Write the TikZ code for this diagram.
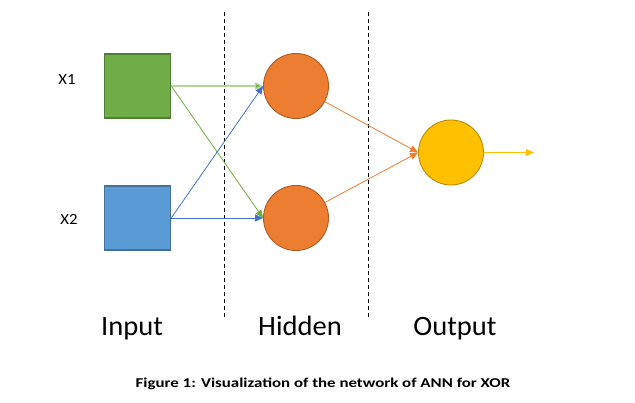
\documentclass[tikz,border=0pt]{standalone}
\usepackage{fontspec}
\setmainfont{Carlito}
\usepackage{tikz}
\usetikzlibrary{arrows.meta}

\definecolor{ingreen}{HTML}{70AD47}
\definecolor{ingreendk}{HTML}{507E32}
\definecolor{ingreenlt}{HTML}{B4D79E}
\definecolor{inblue}{HTML}{5B9BD5}
\definecolor{inbluedk}{HTML}{41719C}
\definecolor{arrblue}{HTML}{4472C4}
\definecolor{hidorange}{HTML}{ED7D31}
\definecolor{hidorangedk}{HTML}{AE5A21}
\definecolor{outgold}{HTML}{FFC000}
\definecolor{outgolddk}{HTML}{BC8C00}

\tikzset{
  inbox/.style={draw, line width=1.5pt, minimum width=66pt, minimum height=64pt, inner sep=0pt},
  neuron/.style={circle, draw, line width=0.9pt, minimum size=65pt, inner sep=0pt},
  inlabel/.style={anchor=base, inner sep=0pt, font=\fontsize{15.5}{18}\selectfont\addfontfeature{FakeStretch=1.08}},
  layerlabel/.style={anchor=base, inner sep=0pt, font=\fontsize{28}{32}\selectfont\addfontfeature{FakeStretch=1.02}},
  sep/.style={dashed, line width=0.9pt, dash pattern=on 4pt off 3pt}
}

\begin{document}
\begin{tikzpicture}[->,>={Triangle[length=8pt,width=7pt]},x=1pt,y=-1pt,line width=0.8pt]
			\useasboundingbox (0,0) rectangle (635,403);
			\node[inbox, fill=ingreen, draw=ingreendk] (x1) at (137.5,86) {};
			\node[inbox, fill=inblue, draw=inbluedk, below of=x1, node distance=132pt] (x2) {};
			\node[neuron, fill=hidorange, draw=hidorangedk, right of=x1, node distance=158.5pt] (h1) {};
			\node[neuron, fill=hidorange, draw=hidorangedk, right of=x2, node distance=158.5pt] (h2) {};
			\node[neuron, fill=outgold, draw=outgolddk] (o) at (451,152.5) {};
			\coordinate (oend) at (534,152.5);
			% input labels
			\node[inlabel] (lx1) at (67,85) {X1};
			\node[inlabel] (lx2) at (69,225) {X2};
			% layer separators
			\coordinate (s1a) at (224,12);
			\coordinate (s1b) at (224,318);
			\coordinate (s2a) at (368,12);
			\coordinate (s2b) at (368,318);
			\draw[-, sep] (s1a) -- (s1b);
			\draw[-, sep] (s2a) -- (s2b);
			% connections
			\draw[ingreenlt, line width=1.1pt, -{Triangle[length=8pt,width=7pt,fill=ingreen]}] (x1.east) -- (h1.west);
			\draw[ingreen] (x1.east) -- (h2.west);
			\draw[arrblue] (x2.east) -- (h1.west);
			\draw[arrblue] (x2.east) -- (h2.west);
			\draw[hidorange] (h1) -- (o.west);
			\draw[hidorange] (h2) -- (o.west);
			\draw[outgold] (o.east) -- (oend);
			% layer names
			\node[layerlabel] (tin) at (132,336) {Input};
			\node[layerlabel] (thid) at (300,336) {Hidden};
			\node[layerlabel] (tout) at (455,336) {Output};
			\node[anchor=base, inner sep=0pt, font=\fontsize{13.5}{16}\selectfont\bfseries\addfontfeature{FakeStretch=1.25}] (cap) at (323,388) {Figure 1: Visualization of the network of ANN for XOR};
		\end{tikzpicture}
\end{document}
